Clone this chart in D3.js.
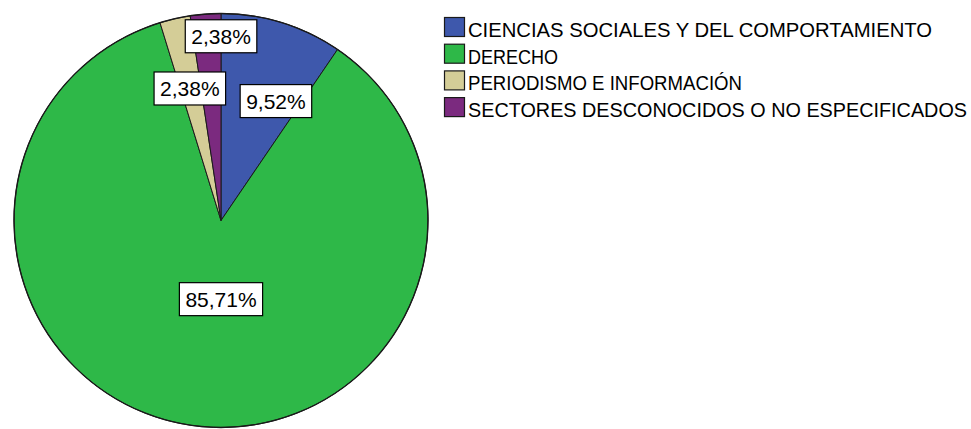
<!DOCTYPE html>
<html>
<head>
<meta charset="utf-8">
<script src="https://cdn.jsdelivr.net/npm/d3@7"></script>
<style>
  body { margin: 0; background: #fff; }
  svg text { font-family: "Liberation Sans", Arial, sans-serif; fill: #000; }
</style>
</head>
<body>
<svg id="chart" width="971" height="429"></svg>
<script>
// values
const categories = [
  "CIENCIAS SOCIALES Y DEL COMPORTAMIENTO",
  "DERECHO",
  "PERIODISMO E INFORMACIÓN",
  "SECTORES DESCONOCIDOS O NO ESPECIFICADOS"
];
const percents = [9.52, 85.71, 2.38, 2.38];
const labels = ["9,52%", "85,71%", "2,38%", "2,38%"];
const colors = ["#3e58ac", "#2eb848", "#d4cd97", "#7b2a7f"];

const width = 971, height = 429;
const cx = 221, cy = 220.5, radius = 207;

const svg = d3.select("#chart");

const pie = d3.pie().sort(null).value(d => d.value);
const arcs = pie(categories.map((c, i) => ({ name: c, value: percents[i], label: labels[i], color: colors[i] })));
const arc = d3.arc().innerRadius(0).outerRadius(radius);

const g = svg.append("g").attr("transform", `translate(${cx},${cy})`);

g.selectAll("path.slice")
  .data(arcs)
  .enter()
  .append("path")
  .attr("class", "slice")
  .attr("d", arc)
  .attr("fill", d => d.data.color)
  .attr("stroke", "#1a1a1a")
  .attr("stroke-width", 1);

g.append("circle")
  .attr("r", radius)
  .attr("fill", "none")
  .attr("stroke", "#1a1a1a")
  .attr("stroke-width", 1.4);

// label placement: distance from centre (fraction of radius) and angle shift,
// mimicking how SPSS nudges the small labels apart
const place = [
  { k: 0.635, shift: 0.132 },
  { k: 0.38, shift: 0 },
  { k: 0.657, shift: -0.0 },
  { k: 0.89, shift: 0.075 }
];

arcs.forEach((d, i) => {
  let a = (d.startAngle + d.endAngle) / 2 + place[i].shift;
  if (i === 1) a = Math.PI;
  if (i === 2) a = -0.2425;
  const rr = radius * place[i].k;
  const x = rr * Math.sin(a) + (i === 2 ? 1.5 : 0), y = -rr * Math.cos(a);
  const lg = g.append("g").attr("transform", `translate(${x},${y})`);
  const rect = lg.append("rect");
  const t = lg.append("text")
    .attr("text-anchor", "middle")
    .attr("dy", "0.36em")
    .style("font-size", "21px")
    .text(d.data.label);
  const bb = t.node().getBBox();
  rect.attr("x", -bb.width / 2 - 6)
    .attr("y", -16.5)
    .attr("width", bb.width + 12)
    .attr("height", 33)
    .attr("fill", "#fff")
    .attr("stroke", "#000")
    .attr("stroke-width", 1.2);
});

// legend
const legend = svg.append("g").attr("transform", "translate(444,17)");
const rowH = 26.7;
const legendWidths = [464, 90, 274, 499];
categories.forEach((c, i) => {
  const row = legend.append("g").attr("transform", `translate(0,${i * rowH})`);
  row.append("rect")
    .attr("x", 0.5).attr("y", 0.5)
    .attr("width", 20).attr("height", 19)
    .attr("fill", colors[i])
    .attr("stroke", "#1a1a1a")
    .attr("stroke-width", 1.2);
  row.append("text")
    .attr("x", 24)
    .attr("y", 20)
    .style("font-size", "19.5px")
    .attr("textLength", legendWidths[i])
    .attr("lengthAdjust", "spacingAndGlyphs")
    .text(c);
});
</script>
</body>
</html>
